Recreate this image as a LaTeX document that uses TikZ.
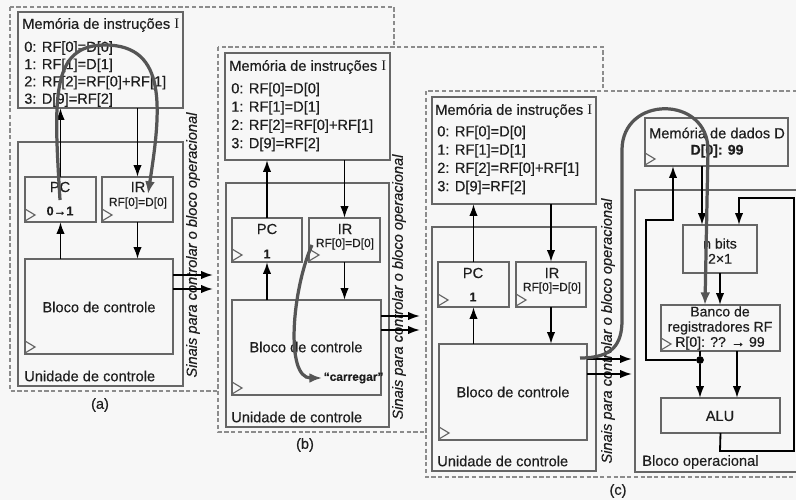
\documentclass[tikz,border=0pt]{standalone}
\usepackage{fontspec}
\setmainfont{Liberation Sans}[FakeBold=0.35]
\newfontfamily\serifI{Liberation Serif}
\usetikzlibrary{arrows.meta,fit}

\definecolor{fundo}{HTML}{F7F7F7}
\definecolor{linhacaixa}{HTML}{666666}
\definecolor{tracejado}{HTML}{8C8C8C}
\definecolor{fluxocinza}{HTML}{555555}
\definecolor{texto}{HTML}{1E1E1E}

\tikzset{
  caixa/.style={draw=linhacaixa, line width=1.2pt, inner sep=0pt, outer sep=0pt},
  painel/.style={draw=tracejado, line width=0.8pt, dash pattern=on 3pt off 1.8pt, fill=fundo},
  fio/.style={line width=1.3pt, -{Latex[length=8.5pt,width=6pt]}},
  fluxo/.style={draw=fluxocinza, line width=2.3pt, -{Latex[length=9pt,width=7pt]}},
  rotulo/.style={text=texto, inner sep=0pt, font=\fontsize{10.4}{12.6}\selectfont},
  miudo/.style={text=texto, inner sep=0pt, font=\fontsize{8.5}{10}\selectfont},
  valor/.style={text=texto, inner sep=0pt, font=\fontsize{9}{10}\selectfont\bfseries},
  sinais/.style={text=texto, inner sep=0pt, rotate=90, font=\fontsize{10.4}{12}\selectfont\itshape},
  ponto/.style={circle, fill=black, inner sep=0pt, minimum size=5.5pt},
  clk/.pic={\draw[linhacaixa, line width=0.8pt] (0,-1) -- (10,-7) -- (0,-13);}
}

\begin{document}
\begin{tikzpicture}[x=0.025cm, y=-0.025cm]
\clip (0,0) rectangle (796,500);
\fill[fundo] (0,0) rectangle (796,500);

% (a)
\draw[painel] (10,7) rectangle (394,391);
\node[caixa, fit={(18,12) (183,108)}] (memA) {};
\node[caixa, fit={(18,142) (183,386)}] (ucA) {};
\node[caixa, fit={(25,177) (96,222)}] (pcA) {};
\node[caixa, fit={(102,177) (173,222)}] (irA) {};
\node[caixa, fit={(25,259) (173,354)}] (blA) {};
\pic at (pcA.south west) {clk};
\pic at (irA.south west) {clk};
\pic at (blA.south west) {clk};
\node[rotulo, anchor=west] (titA) at (22,25) {Memória de instruções {\serifI I}};
\node[rotulo, anchor=west, align=left, font=\fontsize{10.4}{12.3}\selectfont] (progA) at (24,74)
  {0: RF[0]=D[0]\\1: RF[1]=D[1]\\2: RF[2]=RF[0]+RF[1]\\3: D[9]=RF[2]};
\node[rotulo] (pcAt) at (60,187) {PC};
\node[valor] (pcAv) at (60,211) {0→1};
\node[rotulo] (irAt) at (138,187) {IR};
\node[miudo] (irAv) at (138,203) {RF[0]=D[0]};
\node[rotulo] (blAt) at (99,307) {Bloco de controle};
\node[rotulo, anchor=west] (ucAt) at (24,376) {Unidade de controle};
\node[sinais] (sinA) at (193,245) {Sinais para controlar o bloco operacional};
\node[rotulo] (legA) at (100,405) {(a)};
\draw[fio] (pcA.north) -- (memA.south -| pcA.north);
\draw[fio] (memA.south -| irA.north) -- (irA.north);
\draw[fio] (blA.north -| pcA.south) -- (pcA.south);
\draw[fio] (irA.south) -- (blA.north -| irA.south);
\coordinate (sA1) at (213,275);
\coordinate (sA2) at (213,289);
\draw[fio] (blA.east |- sA1) -- (sA1);
\draw[fio] (blA.east |- sA2) -- (sA2);
\coordinate (iniA) at (60,200);
\coordinate (fimA) at (148,194);
\draw[fluxo] (iniA) .. controls (54,100) and (50,45) .. (105,45)
  .. controls (168,45) and (161,110) .. (fimA);

% (b)
\draw[painel] (218,47) rectangle (603,432);
\node[caixa, fit={(225,53) (390,160)}] (memB) {};
\node[caixa, fit={(226,183) (389,427)}] (ucB) {};
\node[caixa, fit={(232,218) (302,262)}] (pcB) {};
\node[caixa, fit={(309,218) (380,262)}] (irB) {};
\node[caixa, fit={(232,300) (381,395)}] (blB) {};
\pic at (pcB.south west) {clk};
\pic at (irB.south west) {clk};
\pic at (blB.south west) {clk};
\node[rotulo, anchor=west] (titB) at (229,67) {Memória de instruções {\serifI I}};
\node[rotulo, anchor=west, align=left, font=\fontsize{10.4}{13}\selectfont] (progB) at (231,117)
  {0: RF[0]=D[0]\\1: RF[1]=D[1]\\2: RF[2]=RF[0]+RF[1]\\3: D[9]=RF[2]};
\node[rotulo] (pcBt) at (267,229) {PC};
\node[valor] (pcBv) at (267,254) {1};
\node[rotulo] (irBt) at (345,229) {IR};
\node[miudo] (irBv) at (345,244) {RF[0]=D[0]};
\node[rotulo] (blBt) at (306,347) {Bloco de controle};
\node[rotulo, anchor=west] (ucBt) at (231,417) {Unidade de controle};
\node[sinais] (sinB) at (399,287) {Sinais para controlar o bloco operacional};
\node[rotulo] (legB) at (305,445) {(b)};
\node[miudo, font=\fontsize{8.5}{10}\selectfont\bfseries, anchor=west, inner sep=1pt] (carr) at (322,378) {“carregar”};
\draw[fio] (pcB.north) -- (memB.south -| pcB.north);
\draw[fio] (memB.south -| irB.north) -- (irB.north);
\draw[fio] (blB.north -| pcB.south) -- (pcB.south);
\draw[fio] (irB.south) -- (blB.north -| irB.south);
\coordinate (sB1) at (420,316);
\coordinate (sB2) at (420,330);
\draw[fio] (blB.east |- sB1) -- (sB1);
\draw[fio] (blB.east |- sB2) -- (sB2);
\coordinate (iniB) at (312,245);
\draw[fluxo] (iniB) .. controls (292,290) and (285,378) .. (carr.west);

% (c)
\draw[painel] (426,91) rectangle (806,477);
\node[caixa, fit={(432,97) (596,204)}] (memC) {};
\node[caixa, fit={(432,227) (596,471)}] (ucC) {};
\node[caixa, fit={(438,262) (509,307)}] (pcC) {};
\node[caixa, fit={(516,262) (586,307)}] (irC) {};
\node[caixa, fit={(439,344) (587,440)}] (blC) {};
\pic at (pcC.south west) {clk};
\pic at (irC.south west) {clk};
\pic at (blC.south west) {clk};
\node[rotulo, anchor=west] (titC) at (435,111) {Memória de instruções {\serifI I}};
\node[rotulo, anchor=west, align=left, font=\fontsize{10.4}{13}\selectfont] (progC) at (437,160)
  {0: RF[0]=D[0]\\1: RF[1]=D[1]\\2: RF[2]=RF[0]+RF[1]\\3: D[9]=RF[2]};
\node[rotulo] (pcCt) at (473,273) {PC};
\node[valor] (pcCv) at (473,297) {1};
\node[rotulo] (irCt) at (552,273) {IR};
\node[miudo] (irCv) at (552,288) {RF[0]=D[0]};
\node[rotulo] (blCt) at (513,392) {Bloco de controle};
\node[rotulo, anchor=west] (ucCt) at (437,461) {Unidade de controle};
\node[sinais] (sinC) at (608,331) {Sinais para controlar o bloco operacional};
\node[rotulo] (legC) at (618,491) {(c)};
\draw[fio] (pcC.north) -- (memC.south -| pcC.north);
\draw[fio] (memC.south -| irC.north) -- (irC.north);
\draw[fio] (blC.north -| pcC.south) -- (pcC.south);
\draw[fio] (irC.south) -- (blC.north -| irC.south);

% bloco operacional
\node[caixa, fit={(635,190) (806,472)}] (opC) {};
\node[caixa, fit={(645,118) (788,166)}] (memD) {};
\node[caixa, fit={(683,225) (757,273)}] (mux) {};
\node[caixa, fit={(661,305) (780,351)}] (rf) {};
\node[caixa, fit={(661,398) (780,433)}] (alu) {};
\pic at (memD.south west) {clk};
\pic at (rf.south west) {clk};
\node[rotulo] (memDt) at (717,133) {Memória de dados D};
\node[valor, font=\fontsize{10}{11}\selectfont\bfseries] (memDv) at (717,151) {D[0]: 99};
\node[rotulo, align=center, font=\fontsize{10}{10.8}\selectfont] (muxt) at (720,251) {n bits\\2×1};
\node[rotulo, align=center, font=\fontsize{10}{10.8}\selectfont] (rft) at (720,328)
  {Banco de\\registradores RF\\R[0]: ?? → 99};
\node[rotulo] (alut) at (720,416) {ALU};
\node[rotulo, anchor=west] (opCt) at (642,462) {Bloco operacional};
\coordinate (sC1) at (632,359);
\coordinate (sC2) at (632,374);
\draw[fio] (blC.east |- sC1) -- (sC1);
\draw[fio] (blC.east |- sC2) -- (sC2);
\draw[fio] (memD.south -| 702,0) -- (mux.north -| 702,0);
\draw[fio] (mux.south) -- (rf.north -| mux.south);
\node[ponto] (jun) at (700,360) {};
\draw[line width=1.3pt] (rf.south -| jun) -- (jun);
\draw[fio] (jun) -- (alu.north -| jun);
\draw[fio] (jun) -- (646,360) -- (646,220) -- (673,220) -- (memD.south -| 673,0);
\draw[fio] (rf.south -| 737,0) -- (alu.north -| 737,0);
\draw[fio] (alu.south) -- (720,451) -- (794,451) -- (794,198) -- (739,198) -- (mux.north -| 739,0);
\coordinate (iniC) at (580,358);
\draw[fluxo] (iniC) .. controls (612,358) and (622,345) .. (622,320) -- (622,150)
  .. controls (622,95) and (708,95) .. (708,150) -- (rf.north -| 705,0);
\end{tikzpicture}
\end{document}
